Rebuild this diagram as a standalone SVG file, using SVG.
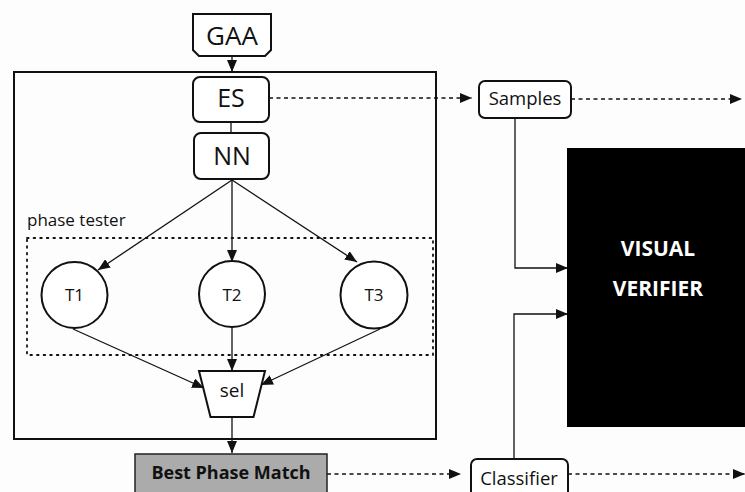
<svg xmlns="http://www.w3.org/2000/svg" width="745" height="492" viewBox="0 0 745 492">
  <style>
    .box { fill: #ffffff; stroke: #111111; stroke-width: 2; }
    .lbl { font-family: "Open Sans", "Liberation Sans", sans-serif; fill: #111111; text-anchor: middle; }
    .edge { fill: none; stroke: #111111; stroke-width: 1.3; }
    .dash { fill: none; stroke: #111111; stroke-width: 1.5; stroke-dasharray: 4 3.5; }
  </style>
  <defs>
    <marker id="head" viewBox="0 0 12 10" refX="12" refY="5" markerWidth="12" markerHeight="10" markerUnits="userSpaceOnUse" orient="auto">
      <path d="M0,0 L12,5 L0,10 z" fill="#111111"/>
    </marker>
  </defs>

  <rect width="745" height="492" fill="#fdfdfd"/>

  <!-- outer frame around the search pipeline -->
  <rect x="14" y="72" width="422" height="367" fill="none" stroke="#111111" stroke-width="2"/>

  <!-- phase tester region -->
  <g id="phase-tester">
    <rect x="27" y="238" width="406" height="117" fill="none" stroke="#111111" stroke-width="1.8" stroke-dasharray="1.6 5" stroke-linecap="round"/>
    <text x="27" y="226" font-family="Open Sans, Liberation Sans, sans-serif" font-size="17" fill="#111111">phase tester</text>
  </g>

  <g id="connectors">
    <line class="edge" x1="232" y1="56" x2="232" y2="72" marker-end="url(#head)"/>
    <line class="edge" x1="231" y1="122" x2="231" y2="133"/>
    <line class="edge" x1="232" y1="180" x2="98" y2="270" marker-end="url(#head)"/>
    <line class="edge" x1="232" y1="180" x2="232" y2="262" marker-end="url(#head)"/>
    <line class="edge" x1="232" y1="180" x2="357" y2="262" marker-end="url(#head)"/>
    <line class="edge" x1="73" y1="329" x2="204" y2="388" marker-end="url(#head)"/>
    <line class="edge" x1="232" y1="327" x2="232" y2="371" marker-end="url(#head)"/>
    <line class="edge" x1="380" y1="329" x2="261" y2="385" marker-end="url(#head)"/>
    <line class="edge" x1="232" y1="417" x2="232" y2="453" marker-end="url(#head)"/>
    <line class="dash" x1="269" y1="98" x2="472" y2="98" marker-end="url(#head)"/>
    <line class="dash" x1="571" y1="99" x2="742" y2="99" marker-end="url(#head)"/>
    <line class="dash" x1="327" y1="474" x2="461" y2="474" marker-end="url(#head)"/>
    <line class="dash" x1="568" y1="474" x2="745" y2="474" marker-end="url(#head)"/>
    <polyline class="edge" points="515,118 515,268 568,268" marker-end="url(#head)"/>
    <polyline class="edge" points="514,459 514,314 568,314" marker-end="url(#head)"/>
  </g>

  <g id="gaa">
    <polygon class="box" points="193,14 271,14 271,50 265,56 199,56 193,50"/>
    <text class="lbl" x="232" y="45" font-size="26">GAA</text>
  </g>

  <g id="es">
    <rect class="box" x="193" y="77" width="76" height="45" rx="7"/>
    <text class="lbl" x="231" y="107" font-size="25">ES</text>
  </g>

  <g id="nn">
    <rect class="box" x="194" y="133" width="75" height="46" rx="7"/>
    <text class="lbl" x="232" y="165" font-size="25">NN</text>
  </g>

  <g id="t1">
    <circle class="box" cx="74.5" cy="295" r="33"/>
    <text class="lbl" x="74.5" y="301" font-size="17">T1</text>
  </g>

  <g id="t2">
    <circle class="box" cx="232" cy="294" r="33"/>
    <text class="lbl" x="232" y="300.5" font-size="17">T2</text>
  </g>

  <g id="t3">
    <circle class="box" cx="374" cy="295" r="33.5"/>
    <text class="lbl" x="374" y="301" font-size="17">T3</text>
  </g>

  <g id="sel">
    <polygon class="box" points="199,371 265,371 253.5,417 210.5,417"/>
    <text class="lbl" x="232" y="397" font-size="19">sel</text>
  </g>

  <g id="best-phase-match">
    <rect x="135" y="454" width="192" height="50" fill="#ababab" stroke="#222222" stroke-width="1.5"/>
    <text class="lbl" x="231" y="479" font-size="18" font-weight="bold">Best Phase Match</text>
  </g>

  <g id="samples">
    <rect class="box" x="479" y="81" width="92" height="37" rx="6"/>
    <text class="lbl" x="525" y="105" font-size="18.5">Samples</text>
  </g>

  <g id="classifier">
    <rect class="box" x="471" y="459" width="97" height="45" rx="6"/>
    <text class="lbl" x="519" y="485" font-size="18.5">Classifier</text>
  </g>

  <g id="visual-verifier">
    <rect x="567" y="148" width="180" height="279" fill="#000000"/>
    <text class="lbl" x="658" y="256" font-size="21" font-weight="bold" fill="#ffffff" style="fill:#ffffff">VISUAL</text>
    <text class="lbl" x="658" y="296" font-size="21" font-weight="bold" style="fill:#ffffff">VERIFIER</text>
  </g>
</svg>
